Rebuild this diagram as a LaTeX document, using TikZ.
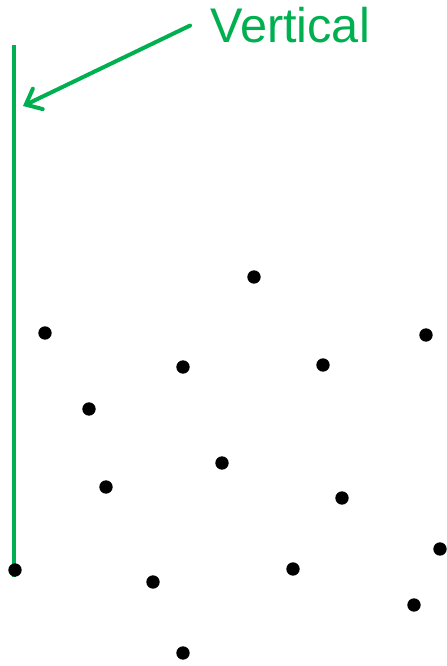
\documentclass[tikz,border=0pt]{standalone}
\usepackage{fontspec}
\setmainfont{Liberation Sans}
\usetikzlibrary{arrows.meta}
\definecolor{verde}{RGB}{0,176,80}
\begin{document}
\begin{tikzpicture}[x=0.75pt,y=-0.75pt,
    linha/.style={verde,line width=3pt},
    seta/.style={linha,line cap=round,-{Straight Barb[length=10pt,width=17pt,line cap=round]}},
    ponto/.style={fill=black}]
        \useasboundingbox (0,0) rectangle (446,666);

        % linha vertical
        \coordinate (topo) at (14,45);
        \coordinate (base) at (14,577);
        \coordinate (alvo) at (23,106);
        \draw[linha] (topo) -- (base);

        % rotulo
        \node[anchor=base west,inner xsep=15pt,inner ysep=0pt,text=verde,font=\fontsize{36.5}{40}\selectfont]
            (rotulo) at (190,43) {Vertical};
        \draw[seta] (rotulo.west) -- (alvo);

        % pontos
        \foreach \x/\y in {
        254/277, 45/333, 426/335, 183/367, 323/365,
        89/409, 222/463, 106/487, 342/498, 15/570,
        440/549, 293/569, 153/582, 414/605, 183/653}
        \fill[ponto] (\x,\y) circle (5pt);
    \end{tikzpicture}
\end{document}
